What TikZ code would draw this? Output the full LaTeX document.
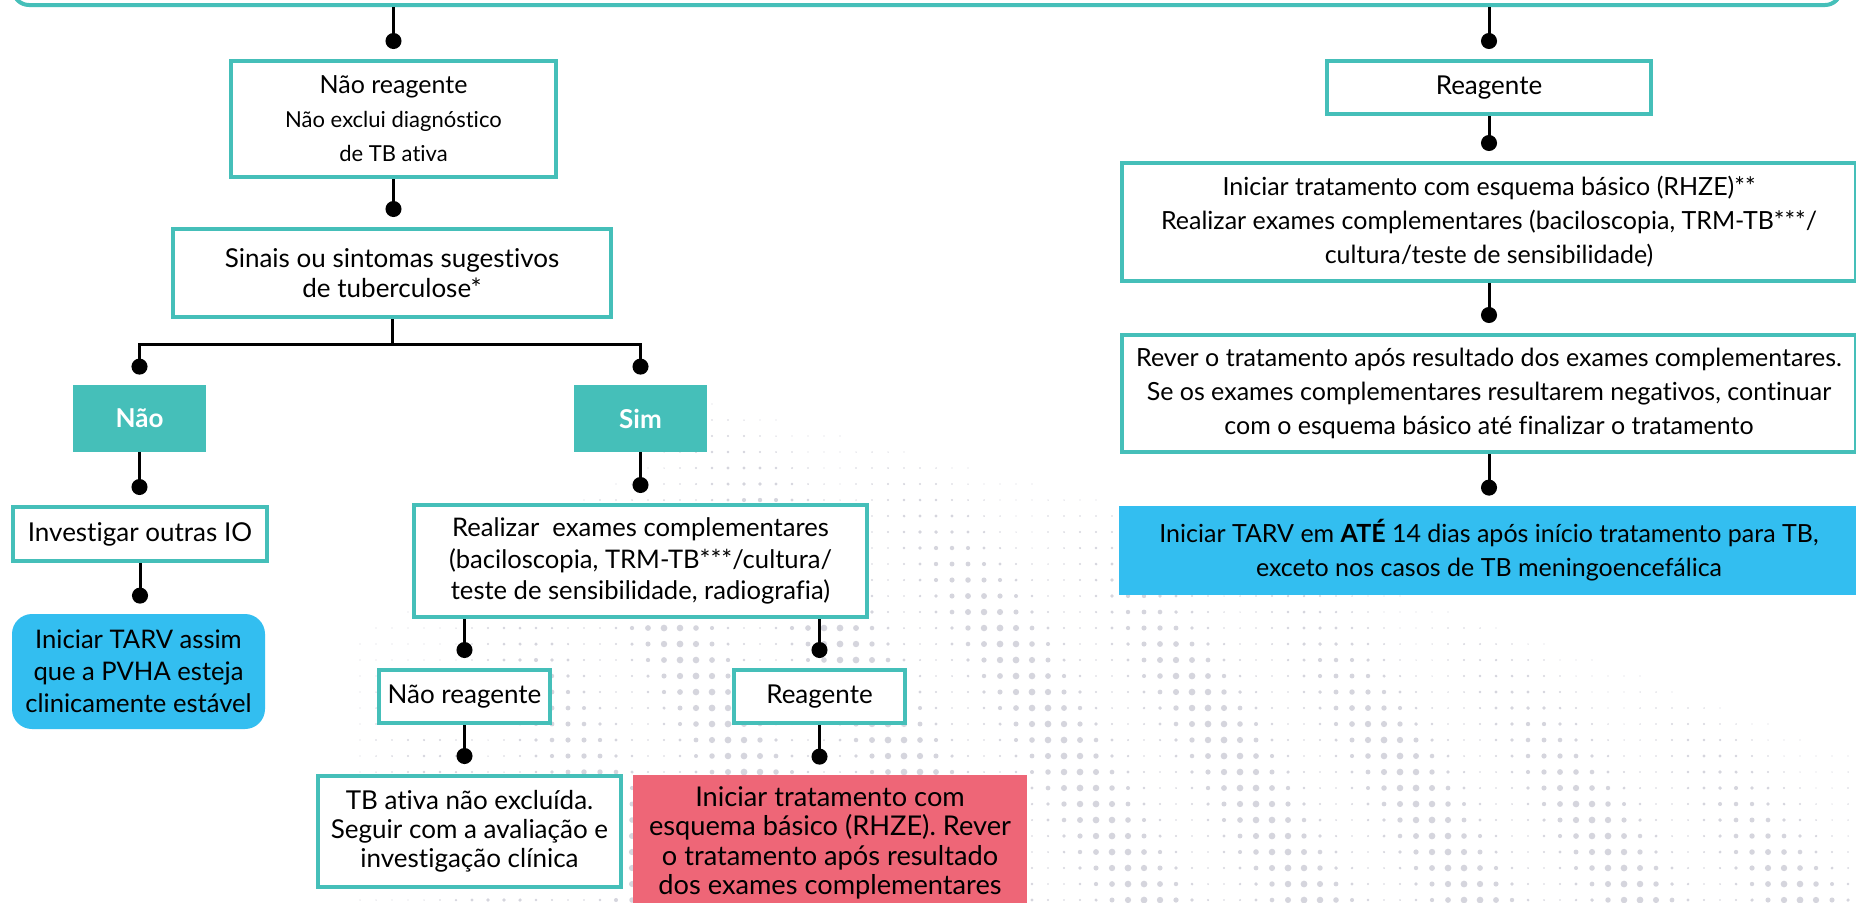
\documentclass[tikz,border=0pt]{standalone}
\usepackage{fontspec}
\setmainfont{Lato}[Ligatures=NoCommon]
\usetikzlibrary{arrows.meta,calc}
\definecolor{teal1}{HTML}{45BFB9}
\definecolor{bluebox}{HTML}{33BEF0}
\definecolor{pinkbox}{HTML}{EE6677}
\definecolor{dotgray}{HTML}{D5D5DD}
\begin{document}
\begin{tikzpicture}[x=0.5pt,y=-0.5pt,
  every node/.style={font=\fontsize{12.5}{17}\selectfont, align=center, inner sep=0pt},
  tbox/.style={draw=teal1, line width=2pt, fill=white},
  tfill/.style={fill=teal1, text=white, font=\fontsize{13}{17}\selectfont\bfseries},
  bbox/.style={fill=bluebox},
  pbox/.style={fill=pinkbox},
  conn/.style={line width=1.5pt, -{Circle[length=8pt,width=8pt]}},
  barline/.style={line width=1.5pt},
]
\path[use as bounding box] (0,0) rectangle (1856,902);
\clip (0,0) rectangle (1856,902);
\fill[white] (0,0) rectangle (1856,902);

% decorative dot field
\foreach \x in {360,376,...,1856}{
 \foreach \y in {372,388,...,904}{
  \pgfmathsetmacro{\yb}{(\x<663) ? (450+0.6*(663-\x)) : (380+0.2*(\x-600)+0.8*((\x-600)/100)*((\x-600)/100))}
  \pgfmathsetmacro{\v}{\y-\yb}
  \ifdim\v pt>0pt
    \pgfmathsetmacro{\r}{0.3+1.4*min(1,\v/150)*min(1,(\x-340)/320)*(0.55+0.45*cos(2.2*\x-1.2*\y))}
    \fill[dotgray] (\x,\y) circle[radius=\r pt];
  \fi
 }
}

% top box (only bottom edge visible)
\node[tbox, rounded corners=8pt, minimum width=914pt, minimum height=35pt] (top) at (927,-30) {};

% left branch
\node[tbox, minimum width=162.5pt, minimum height=58pt] (b1) at (393.5,119)
  {{\fontsize{12.5}{16}\selectfont Não reagente}\\ {\fontsize{11}{16}\selectfont Não exclui diagnóstico}\\ {\fontsize{11}{16}\selectfont de TB ativa}};
\node[tbox, minimum width=219pt, minimum height=44pt, font=\fontsize{13}{15}\selectfont] (b2) at (392,273)
  {Sinais ou sintomas sugestivos\\ de tuberculose*};
\node[tfill, minimum width=66.5pt, minimum height=33.5pt] (nao) at (139.5,418.5) {Não};
\node[tfill, minimum width=66.5pt, minimum height=33.5pt] (sim) at (640.5,418.5) {Sim};
\node[tbox, minimum width=127pt, minimum height=27pt, font=\fontsize{13}{16}\selectfont] (inv) at (140,534) {Investigar outras IO};
\node[bbox, rounded corners=10pt, minimum width=126.5pt, minimum height=57.5pt, font=\fontsize{12.8}{16}\selectfont] (tarv1) at (138.5,671.5)
  {Iniciar TARV assim\\ que a PVHA esteja\\ clinicamente estável};
\node[tbox, minimum width=226.5pt, minimum height=56pt, font=\fontsize{12.8}{15.75}\selectfont] (real) at (640.5,561)
  {Realizar\ \ exames complementares\\ (baciloscopia, TRM-TB***/cultura/\\ teste de sensibilidade, radiografia)};
\node[tbox, minimum width=85.5pt, minimum height=26.5pt, font=\fontsize{13}{16}\selectfont] (nr2) at (464.5,696.5) {Não reagente};
\node[tbox, minimum width=85.5pt, minimum height=26.5pt, font=\fontsize{13}{16}\selectfont] (r2) at (819.5,696.5) {Reagente};
\node[tbox, minimum width=151.5pt, minimum height=55.5pt, font=\fontsize{13}{14.5}\selectfont] (tbat) at (469.5,831.5)
  {TB ativa não excluída.\\ Seguir com a avaliação e\\ investigação clínica};
\node[pbox, minimum width=197pt, minimum height=68pt, font=\fontsize{13.6}{14.7}\selectfont] (pink) at (830,843)
  {Iniciar tratamento com\\ esquema básico (RHZE). Rever\\ o tratamento após resultado\\ dos exames complementares};

% right branch
\node[tbox, minimum width=162pt, minimum height=26.5pt, font=\fontsize{13}{16}\selectfont] (reag) at (1489,87.5) {Reagente};
\node[tbox, minimum width=367pt, minimum height=59pt] (ini) at (1489,222)
  {Iniciar tratamento com esquema básico (RHZE)**\\ Realizar exames complementares (baciloscopia, TRM-TB***/\\ cultura/teste de sensibilidade)};
\node[tbox, minimum width=367pt, minimum height=58.5pt] (rever) at (1489,393.5)
  {Rever o tratamento após resultado dos exames complementares.\\ Se os exames complementares resultarem negativos, continuar\\ com o esquema básico até finalizar o tratamento};
\node[bbox, minimum width=370.5pt, minimum height=44.5pt] (tarv2) at (1489,550.5)
  {Iniciar TARV em \textbf{ATÉ} 14 dias após início tratamento para TB,\\ exceto nos casos de TB meningoencefálica};

% connectors
\coordinate (barY) at (0,344);
\draw[conn] (top.south -| b1.north) -- ([yshift=5pt]b1.north);
\draw[conn] (b1.south) -- ([yshift=5pt]b1.south |- b2.north);
\draw[barline] (b2.south) -- (b2.south |- barY);
\draw[conn] (b2.south |- barY) -| ([yshift=5pt]nao.north);
\draw[conn] (b2.south |- barY) -| ([yshift=5pt]sim.north);
\draw[conn] (nao.south) -- ([yshift=5pt]nao.south |- inv.north);
\draw[conn] (inv.south) -- ([yshift=5pt]inv.south |- tarv1.north);
\draw[conn] (sim.south) -- ([yshift=5pt]sim.south |- real.north);
\draw[conn] (real.south -| nr2.north) -- ([yshift=5pt]nr2.north);
\draw[conn] (real.south -| r2.north) -- ([yshift=5pt]r2.north);
\draw[conn] (nr2.south) -- ([yshift=5pt]nr2.south |- tbat.north);
\draw[conn] (r2.south) -- ([yshift=5pt]r2.south |- pink.north);
\draw[conn] (top.south -| reag.north) -- ([yshift=5pt]reag.north);
\draw[conn] (reag.south) -- ([yshift=5pt]reag.south |- ini.north);
\draw[conn] (ini.south) -- ([yshift=5pt]ini.south |- rever.north);
\draw[conn] (rever.south) -- ([yshift=5pt]rever.south |- tarv2.north);
\end{tikzpicture}
\end{document}
